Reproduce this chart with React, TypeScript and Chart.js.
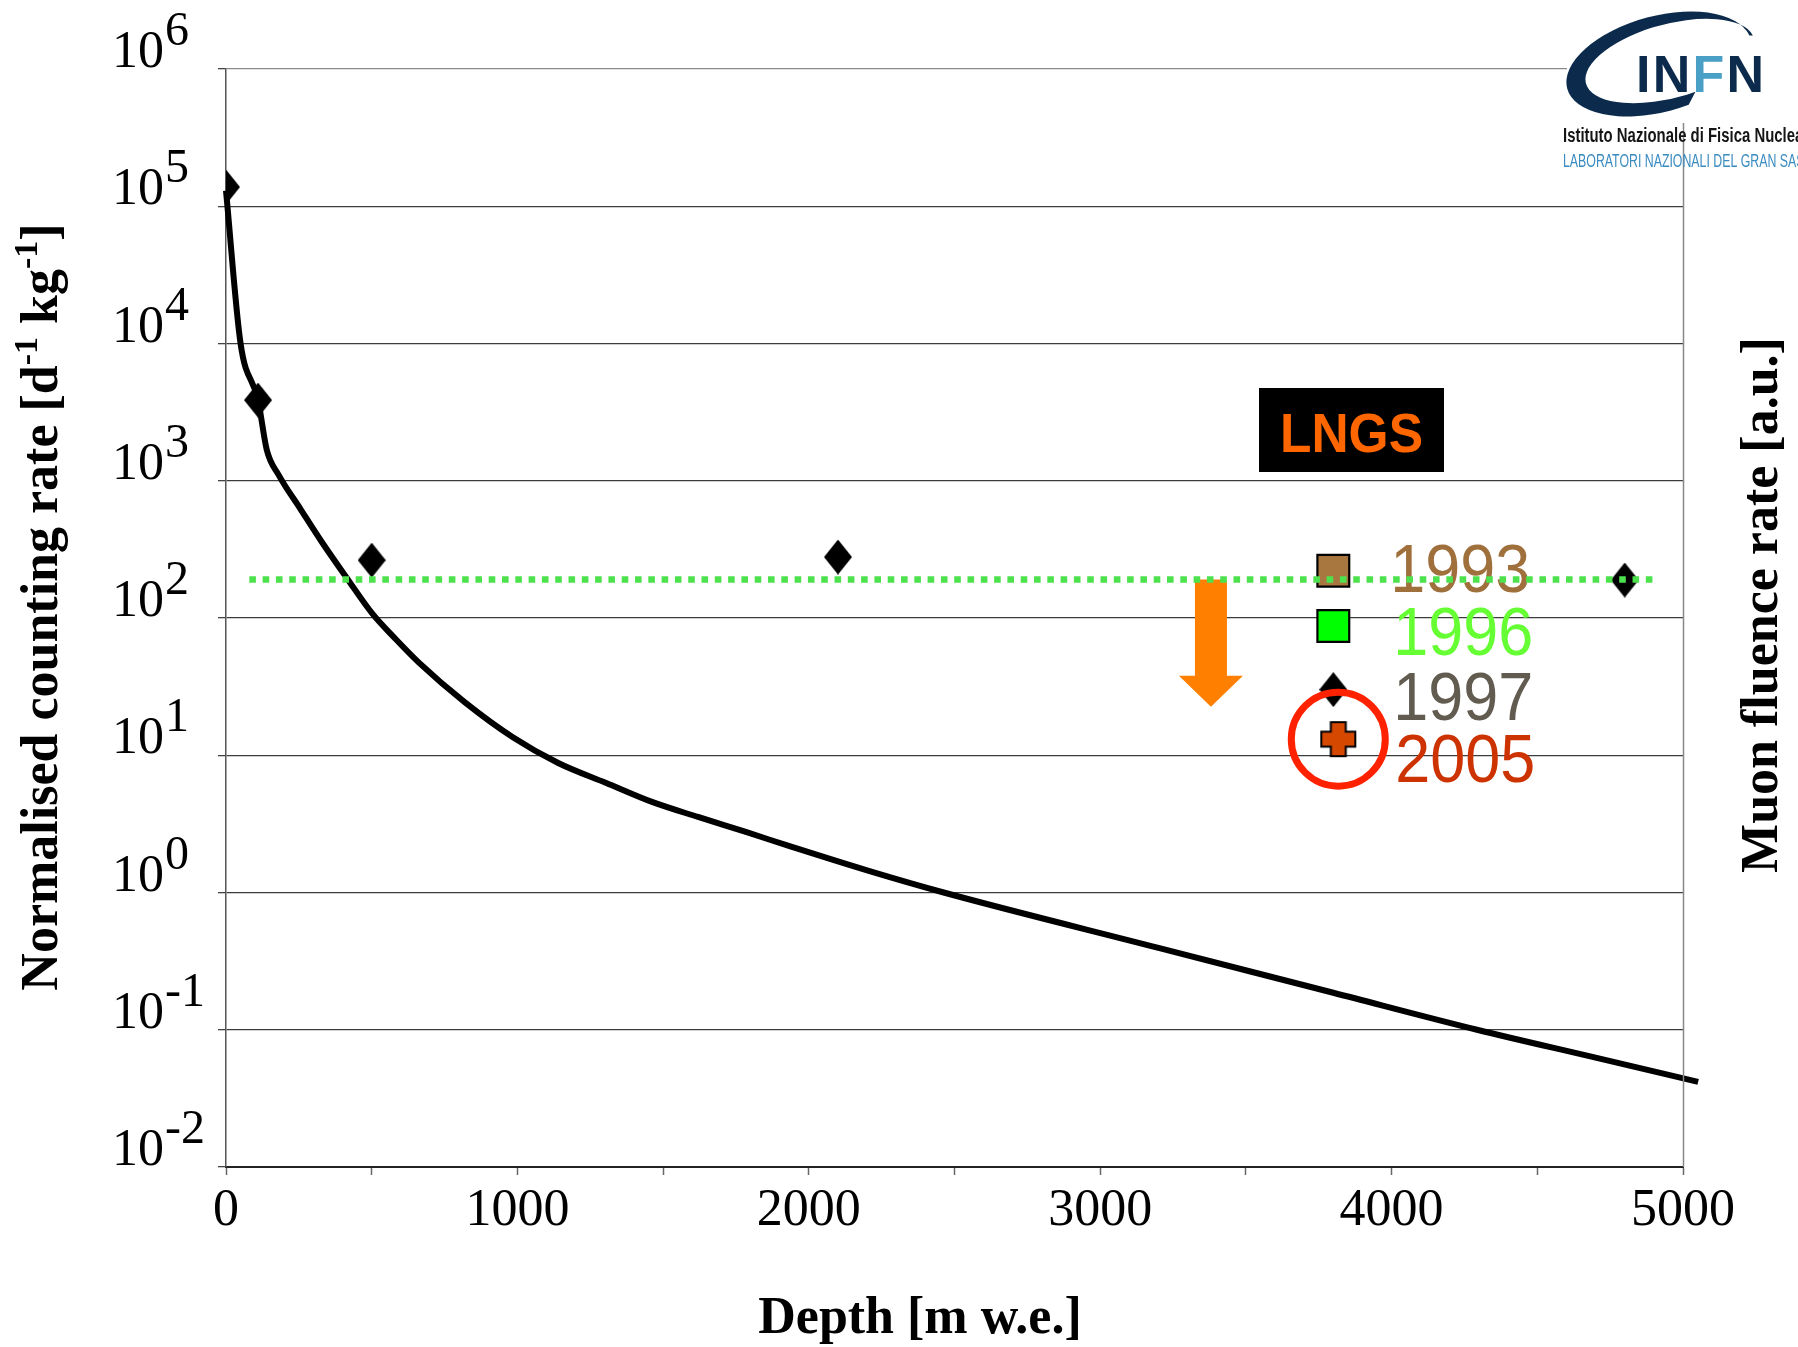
import React, { useEffect, useRef } from 'react';
import { Chart, registerables } from 'chart.js';

Chart.register(...registerables);

const CANVAS_W = 1798;
const CANVAS_H = 1347;

// Calculated counting rate vs depth (solid black curve)
const curveDepth = [0, 50, 110, 140, 181, 254, 330, 418, 503, 580, 661, 819, 983, 1140, 1305, 1462, 1620, 1784, 1942, 2200, 2463, 3200, 3800, 4293, 4700, 5052];
const curveRate = [1.3e5, 1.0e4, 3870, 1675, 1100, 630, 355, 191, 107, 71, 47.5, 24.4, 13.6, 8.79, 6.28, 4.57, 3.55, 2.76, 2.15, 1.45, 1.0, 0.395, 0.186, 0.1, 0.0626, 0.0417];

// Measured sites (black diamonds)
const siteDepth = [0, 110, 500, 2100, 4800];
const siteRate = [1.38e5, 3870, 264, 278, 189];

// Dotted level line
const levelDepth = [80, 4910];
const levelRate = [191, 191];

// LNGS history markers
const yearLabels = ['1993', '1996', '1997', '2005'];
const yearDepth = [3800, 3800, 3800, 3817];
const yearRate = [221, 87.5, 30.1, 13.1];

// Arrow (depth, top rate, head start rate, tip rate)
const arrowDepth = 3380;
const arrowRates = [191, 38, 22.6];

const yDecades = [1e-2, 1e-1, 1, 10, 100, 1e3, 1e4, 1e5, 1e6];
const xTickStep = 500;
const xLabelStep = 1000;

const SERIF = '"Liberation Serif", "Times New Roman", serif';
const SANS = '"Liberation Sans", Arial, sans-serif';

const yearColors = ['#a0703c', '#66ff33', '#625b50', '#cc3300'];
const yearTextDx = [57, 60, 60, 57];
const yearTextDy = [21, 29, 30.5, 42.5];

function makeDiamond(w: number, h: number) {
  const c = document.createElement('canvas');
  c.width = w;
  c.height = h;
  const g = c.getContext('2d')!;
  g.fillStyle = '#000';
  g.beginPath();
  g.moveTo(w / 2, 0);
  g.lineTo(w, h / 2);
  g.lineTo(w / 2, h);
  g.lineTo(0, h / 2);
  g.closePath();
  g.fill();
  return c;
}

function makePlus(size: number, arm: number, fill: string) {
  const pad = 2;
  const c = document.createElement('canvas');
  c.width = size + pad * 2;
  c.height = size + pad * 2;
  const g = c.getContext('2d')!;
  const a = (size - arm) / 2;
  const b = a + arm;
  g.translate(pad, pad);
  g.beginPath();
  g.moveTo(a, 0);
  g.lineTo(b, 0);
  g.lineTo(b, a);
  g.lineTo(size, a);
  g.lineTo(size, b);
  g.lineTo(b, b);
  g.lineTo(b, size);
  g.lineTo(a, size);
  g.lineTo(a, b);
  g.lineTo(0, b);
  g.lineTo(0, a);
  g.lineTo(a, a);
  g.closePath();
  g.fillStyle = fill;
  g.fill();
  g.lineWidth = 2;
  g.strokeStyle = '#000';
  g.stroke();
  return c;
}

function supText(v: number) {
  const e = Math.round(Math.log10(v));
  return e < 0 ? '-' + Math.abs(e) : String(e);
}

function drawLogo(ctx: CanvasRenderingContext2D) {
  ctx.save();
  ctx.fillStyle = '#fff';
  ctx.fillRect(1567, 0, 231, 123);
  const D = Math.PI / 180;
  const rot = -15 * D;
  ctx.beginPath();
  ctx.ellipse(1659, 64, 95, 48, rot, 79 * D, 355 * D, false);
  ctx.ellipse(1670, 61, 87, 37, rot, 355 * D, 79 * D, true);
  ctx.closePath();
  ctx.fillStyle = '#0c2b4c';
  ctx.fill();

  ctx.font = 'bold 52px ' + SANS;
  ctx.textBaseline = 'alphabetic';
  ctx.textAlign = 'left';
  const letters = ['I', 'N', 'F', 'N'];
  const cols = ['#0c2b4c', '#0c2b4c', '#4a9fc6', '#0c2b4c'];
  const natural = letters.reduce((s, l) => s + ctx.measureText(l).width, 0);
  const gap = (128 - natural) / 3;
  let x = 1636;
  letters.forEach((l, i) => {
    ctx.fillStyle = cols[i];
    ctx.fillText(l, x, 92);
    x += ctx.measureText(l).width + gap;
  });

  ctx.font = 'bold 20px ' + SANS;
  ctx.fillStyle = '#151515';
  let sx = 232 / ctx.measureText('Istituto Nazionale di Fisica Nucle').width;
  ctx.save();
  ctx.translate(1563, 142);
  ctx.scale(sx, 1);
  ctx.fillText('Istituto Nazionale di Fisica Nucleare', 0, 0);
  ctx.restore();

  ctx.font = '18px ' + SANS;
  ctx.fillStyle = '#3a8bc0';
  sx = 225 / ctx.measureText('LABORATORI NAZIONALI DEL GRAN S').width;
  ctx.save();
  ctx.translate(1563, 167);
  ctx.scale(sx, 1);
  ctx.fillText('LABORATORI NAZIONALI DEL GRAN SASSO', 0, 0);
  ctx.restore();
  ctx.restore();
}

const decorPlugin = {
  id: 'decor',
  beforeDraw(chart: any) {
    const ctx = chart.ctx;
    ctx.save();
    ctx.fillStyle = '#fff';
    ctx.fillRect(0, 0, chart.width, chart.height);
    ctx.restore();
  },
  beforeDatasetsDraw(chart: any) {
    const ctx: CanvasRenderingContext2D = chart.ctx;
    const xs = chart.scales.x;
    const ys = chart.scales.y;
    ctx.save();
    // LNGS box
    ctx.fillStyle = '#000';
    ctx.fillRect(1259, 388, 185, 84);
    ctx.fillStyle = '#ff6600';
    ctx.font = 'bold 56px ' + SANS;
    ctx.textAlign = 'center';
    ctx.textBaseline = 'alphabetic';
    ctx.fillText('LNGS', 1351.5, 452, 143);

    // Orange arrow
    const ax = xs.getPixelForValue(arrowDepth);
    const yTop = ys.getPixelForValue(arrowRates[0]);
    const yHead = ys.getPixelForValue(arrowRates[1]);
    const yTip = ys.getPixelForValue(arrowRates[2]);
    ctx.fillStyle = '#ff7f00';
    ctx.beginPath();
    ctx.moveTo(ax - 16, yTop);
    ctx.lineTo(ax + 16, yTop);
    ctx.lineTo(ax + 16, yHead);
    ctx.lineTo(ax + 32, yHead);
    ctx.lineTo(ax, yTip);
    ctx.lineTo(ax - 32, yHead);
    ctx.lineTo(ax - 16, yHead);
    ctx.closePath();
    ctx.fill();

    // year labels
    ctx.textAlign = 'left';
    ctx.font = '68px ' + SANS;
    yearLabels.forEach((t, i) => {
      const px = xs.getPixelForValue(yearDepth[i]);
      const py = ys.getPixelForValue(yearRate[i]);
      ctx.fillStyle = yearColors[i];
      ctx.fillText(t, px + yearTextDx[i], py + yearTextDy[i], 140);
    });
    ctx.restore();
  },
  afterDatasetsDraw(chart: any) {
    const ctx: CanvasRenderingContext2D = chart.ctx;
    const xs = chart.scales.x;
    const ys = chart.scales.y;
    const cx = xs.getPixelForValue(yearDepth[3]);
    const cy = ys.getPixelForValue(yearRate[3]);
    ctx.save();
    ctx.strokeStyle = '#ff2200';
    ctx.lineWidth = 7;
    ctx.beginPath();
    ctx.arc(cx, cy, 47, 0, Math.PI * 2);
    ctx.stroke();
    ctx.restore();
  },
  afterDraw(chart: any) {
    const ctx: CanvasRenderingContext2D = chart.ctx;
    const ys = chart.scales.y;
    const area = chart.chartArea;
    ctx.save();
    // right frame line
    ctx.strokeStyle = '#888';
    ctx.lineWidth = 1.5;
    ctx.beginPath();
    ctx.moveTo(Math.round(area.right) + 0.5, area.top);
    ctx.lineTo(Math.round(area.right) + 0.5, area.bottom);
    ctx.stroke();

    // y tick labels 10^n
    ctx.fillStyle = '#000';
    ctx.textAlign = 'left';
    ctx.textBaseline = 'alphabetic';
    yDecades.forEach((v) => {
      const py = ys.getPixelForValue(v);
      ctx.font = '52px ' + SERIF;
      ctx.fillText('10', 112, py - 2);
      const w = ctx.measureText('10').width;
      ctx.font = '48px ' + SERIF;
      ctx.fillText(supText(v), 112 + w + 1, py - 24);
    });

    // x title
    ctx.font = 'bold 52px ' + SERIF;
    ctx.textAlign = 'center';
    ctx.fillText('Depth [m w.e.]', 920, 1333);

    // y title (rotated) with superscripts
    const segs = [
      { t: 'Normalised counting rate [d', s: false },
      { t: '-1', s: true },
      { t: ' kg', s: false },
      { t: '-1', s: true },
      { t: ']', s: false },
    ];
    const fMain = 'bold 52px ' + SERIF;
    const fSup = 'bold 34px ' + SERIF;
    let total = 0;
    segs.forEach((sg) => {
      ctx.font = sg.s ? fSup : fMain;
      total += ctx.measureText(sg.t).width;
    });
    ctx.save();
    ctx.translate(57, 607);
    ctx.rotate(-Math.PI / 2);
    ctx.textAlign = 'left';
    let off = -total / 2;
    segs.forEach((sg) => {
      ctx.font = sg.s ? fSup : fMain;
      ctx.fillText(sg.t, off, sg.s ? -20 : 0);
      off += ctx.measureText(sg.t).width;
    });
    ctx.restore();

    // right title
    ctx.save();
    ctx.translate(1777, 605);
    ctx.rotate(-Math.PI / 2);
    ctx.font = 'bold 52px ' + SERIF;
    ctx.textAlign = 'center';
    ctx.fillText('Muon fluence rate [a.u.]', 0, 0);
    ctx.restore();

    drawLogo(ctx);
    ctx.restore();
  },
};

export default function App() {
  const ref = useRef<HTMLCanvasElement>(null);

  useEffect(() => {
    document.body.style.margin = '0';
    const canvas = ref.current;
    if (!canvas) return;

    const diamond = makeDiamond(28, 35);
    const plus = makePlus(34, 15, '#d44800');

    const curveData = curveDepth.map((x, i) => ({ x, y: curveRate[i] }));
    const siteData = siteDepth.map((x, i) => ({ x, y: siteRate[i] }));
    const levelData = levelDepth.map((x, i) => ({ x, y: levelRate[i] }));
    const yearData = yearDepth.map((x, i) => ({ x, y: yearRate[i] }));

    const chart = new Chart(canvas, {
      type: 'scatter',
      data: {
        datasets: [
          {
            label: 'level',
            data: levelData,
            showLine: true,
            borderColor: '#4de24d',
            borderWidth: 6.5,
            borderDash: [6.6, 6.7],
            borderCapStyle: 'butt',
            pointRadius: 0,
            order: 0,
          },
          {
            label: 'years',
            data: yearData,
            showLine: false,
            pointStyle: ['rect', 'rect', diamond, plus],
            pointRadius: [22.5, 22.5, 5, 5],
            backgroundColor: ['#a8763f', '#00ff00', '#000000', '#d44800'],
            borderColor: '#000',
            borderWidth: [2.2, 2.2, 0, 0],
            order: 1,
          },
          {
            label: 'sites',
            data: siteData,
            showLine: false,
            pointStyle: diamond,
            pointRadius: 5,
            order: 2,
          },
          {
            label: 'curve',
            data: curveData,
            showLine: true,
            borderColor: '#000',
            borderWidth: 6,
            pointRadius: 0,
            cubicInterpolationMode: 'monotone',
            clip: false,
            order: 3,
          },
        ],
      } as any,
      options: {
        responsive: false,
        devicePixelRatio: 1,
        animation: false,
        events: [],
        layout: { padding: { left: 218, top: 69, right: 115, bottom: 80 } },
        plugins: {
          legend: { display: false },
          tooltip: { enabled: false },
          title: { display: false },
        },
        scales: {
          x: {
            type: 'linear',
            position: 'bottom',
            min: 0,
            max: 5000,
            afterFit: (s: any) => {
              s.height = 100;
            },
            ticks: {
              stepSize: xTickStep,
              autoSkip: false,
              maxRotation: 0,
              minRotation: 0,
              padding: 5,
              color: '#000',
              font: { family: 'Liberation Serif', size: 52 },
              callback: (v: any) => (Number(v) % xLabelStep === 0 ? String(v) : ''),
            },
            grid: {
              drawOnChartArea: false,
              drawTicks: true,
              tickLength: 8,
              tickColor: '#666',
              tickWidth: 1.5,
            },
            border: { display: true, color: '#222', width: 2 },
          },
          y: {
            type: 'logarithmic',
            min: 1e-2,
            max: 1e6,
            afterBuildTicks: (s: any) => {
              s.ticks = yDecades.map((v) => ({ value: v }));
            },
            afterFit: (s: any) => {
              s.width = 8;
            },
            ticks: { display: false },
            grid: {
              color: (c: any) => (c.tick && c.tick.value >= 1e6 ? '#8a8a8a' : '#3c3c3c'),
              lineWidth: 1.3,
              drawTicks: true,
              tickLength: 8,
              tickColor: '#444',
            },
            border: { display: true, color: '#555', width: 1.5 },
          },
        },
      } as any,
      plugins: [decorPlugin],
    });

    let alive = true;
    const fonts = ['52px "Liberation Serif"', 'bold 52px "Liberation Serif"', '54px "Liberation Sans"', 'bold 56px "Liberation Sans"'];
    if ((document as any).fonts) {
      Promise.all(fonts.map((f) => (document as any).fonts.load(f)))
        .then(() => {
          if (alive) chart.update();
        })
        .catch(() => {});
    }
    return () => {
      alive = false;
      chart.destroy();
    };
  }, []);

  return (
    <div style={{ width: CANVAS_W, height: CANVAS_H, overflow: 'hidden' }}>
      <canvas ref={ref} width={CANVAS_W} height={CANVAS_H} style={{ display: 'block', width: CANVAS_W, height: CANVAS_H }} />
    </div>
  );
}
